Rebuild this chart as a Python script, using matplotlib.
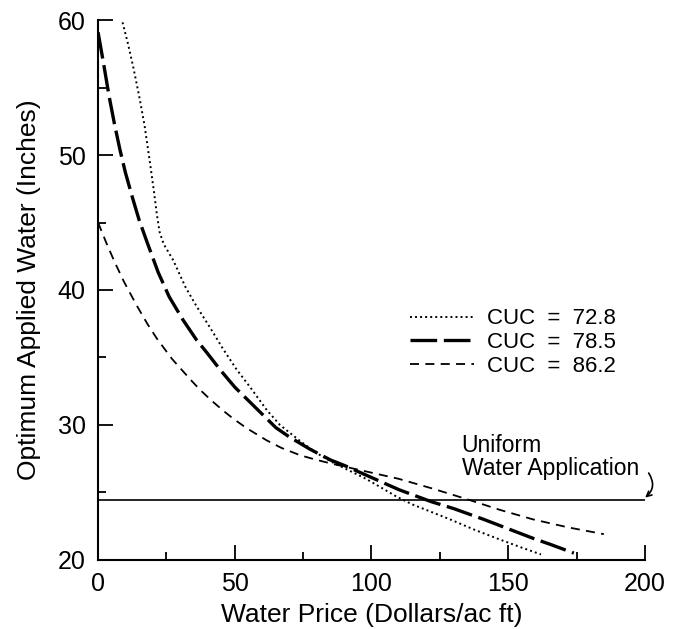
import matplotlib
matplotlib.use("Agg")
from matplotlib import pyplot as plt, ticker as mticker

plt.rcParams['font.family'] = ['Liberation Sans', 'DejaVu Sans']

# CUC = 72.8 (dotted)
price_728 = [8.5, 11, 13, 15, 17, 19, 20.5, 21.5, 22.5, 24, 27.5, 32, 36, 41, 45.8, 50.7, 55.6,
             61.7, 66.5, 73.9, 80, 86, 92, 98, 104, 109, 115, 120, 128.7, 138, 147, 155, 162]
water_728 = [60.2, 58.2, 56.4, 54.4, 52.2, 49.4, 47.2, 45.6, 44.3, 43.4, 42.2, 40.2, 38.8, 37.2, 35.6, 34.1, 32.8,
             31.1, 30.0, 28.8, 27.9, 27.2, 26.6, 26.0, 25.3, 24.7, 24.1, 23.7, 23.0, 22.2, 21.5, 20.9, 20.4]
# CUC = 78.5 (long dash)
price_785 = [0, 2, 4, 6, 8, 10, 12.5, 15, 18, 22, 26, 31, 36, 40, 45, 50, 55, 60, 65, 70, 77.5, 85,
             90, 100, 110, 122, 130, 141, 150, 159, 166, 174]
water_785 = [59.1, 56.8, 54.4, 52.3, 50.4, 48.7, 46.9, 45.2, 43.5, 41.3, 39.5, 37.8, 36.3, 35.3, 34.0, 32.8, 31.8,
             30.8, 29.8, 29.1, 28.2, 27.4, 27.0, 26.1, 25.2, 24.3, 23.8, 23.0, 22.3, 21.6, 21.1, 20.5]
# CUC = 86.2 (short dash)
price_862 = [0, 3, 6, 9.5, 14, 18, 21.5, 27, 33.6, 37.3, 41.5, 45.8, 49.5, 54.4, 61.7, 67, 73.9, 80, 86,
             98, 110, 122, 134.8, 147, 159, 172, 185]
water_862 = [45.0, 43.5, 42.1, 40.6, 38.9, 37.5, 36.4, 34.9, 33.4, 32.6, 31.8, 31.05, 30.45, 29.75, 28.85, 28.3,
             27.75, 27.4, 27.1, 26.55, 26.0, 25.3, 24.5, 23.7, 23.0, 22.4, 21.9]

uniform_water = 24.4
labels = ['CUC  =  72.8', 'CUC  =  78.5', 'CUC  =  86.2']

fig = plt.figure(figsize=(6.81, 6.29), dpi=100)
ax = fig.add_axes([0.144, 0.110, 0.803, 0.858])

ax.plot(price_728, water_728, color='black', lw=1.4, linestyle=(0, (1, 1.6)), label=labels[0])
ax.plot(price_785, water_785, color='black', lw=2.4, linestyle=(0, (8, 2)), label=labels[1])
ax.plot(price_862, water_862, color='black', lw=1.3, linestyle=(0, (5, 3.5)), label=labels[2])
ax.plot([0, 200], [uniform_water, uniform_water], color='black', lw=1.2)

ax.set_xlim(0, 200)
ax.set_ylim(20, 60)
ax.spines['top'].set_visible(False)
ax.spines['right'].set_visible(False)
ax.spines['left'].set_linewidth(1.5)
ax.spines['bottom'].set_linewidth(1.5)

ax.xaxis.set_major_locator(mticker.MultipleLocator(50))
ax.xaxis.set_minor_locator(mticker.MultipleLocator(25))
ax.yaxis.set_major_locator(mticker.MultipleLocator(10))
ax.yaxis.set_minor_locator(mticker.MultipleLocator(5))
ax.tick_params(which='major', direction='in', length=11, width=1.3, labelsize=18, pad=9)
ax.tick_params(which='minor', direction='in', length=6, width=1.3)

ax.set_xlabel('Water Price (Dollars/ac ft)', fontsize=19, labelpad=5)
ax.set_ylabel('Optimum Applied Water (Inches)', fontsize=19, labelpad=12)

ax.legend(loc='upper left', bbox_to_anchor=(0.533, 0.503), frameon=False,
          fontsize=16, handlelength=2.9, handletextpad=0.6, labelspacing=0.12)

ax.text(133, 26.25, 'Uniform\nWater Application', fontsize=16.5, ha='left', va='baseline',
        linespacing=1.05)
ax.annotate('', xy=(199.3, uniform_water + 0.08), xytext=(200.8, 26.6),
            arrowprops=dict(arrowstyle='->', lw=1.2, color='black',
                            connectionstyle='arc3,rad=-0.5', mutation_scale=9))

fig.savefig('out.png', dpi=100)
